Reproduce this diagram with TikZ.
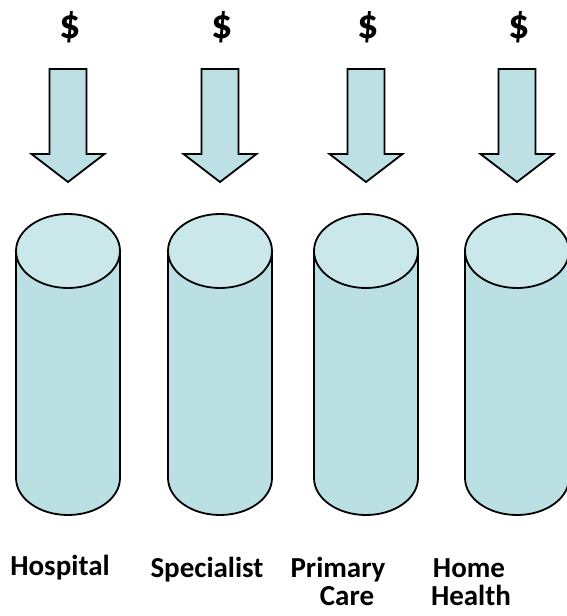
\documentclass[tikz,border=0pt]{standalone}
\usepackage{fontspec}
\setmainfont{Carlito}
\usetikzlibrary{positioning}
\definecolor{tankside}{RGB}{186,224,228}
\definecolor{tanktop}{RGB}{202,231,234}
\definecolor{flowfill}{RGB}{188,224,228}

\tikzset{
  tank/.style={fill=tankside,draw=black,line width=1.8pt},
  tanklid/.style={fill=tanktop,draw=black,line width=1.8pt},
  flow/.style={fill=flowfill,draw=black,line width=1.8pt,line join=miter},
  money/.style={inner sep=0pt,font=\bfseries\fontsize{42}{42}\selectfont},
  sector/.style={inner sep=0pt,anchor=base}
}

\begin{document}
\begin{tikzpicture}[x=1pt,y=-1pt,font=\bfseries\fontsize{29}{30}\selectfont]
  \useasboundingbox (0,0) rectangle (566,616);

  \foreach \cx/\name in {68/hosp,220/spec,366/prim,517/home}
  {
      % Funding arrow
      \draw[flow] (\cx-18.5,69) -- (\cx+18.5,69) -- (\cx+18.5,154) -- (\cx+36.5,154)
          -- (\cx,182) -- (\cx-36.5,154) -- (\cx-18.5,154) -- cycle;
      % Silo
      \draw[tank] (\cx-52,251) -- (\cx-52,478)
          arc[start angle=180,end angle=360,x radius=52pt,y radius=37pt]
          -- (\cx+52,251) -- cycle;
      \draw[tanklid] (\cx,251) ellipse [x radius=52pt,y radius=37pt];
      % Dollar sign
      \node[money] (d\name) at (\cx+2,27) {\$};
  }

  % Labels
  \node[sector] (hosp) at (60,575) {Hospital};
  \node[sector] (spec) at (207,577) {Specialist};
  \node[sector] (prim) at (338,577) {Primary};
  \node[sector] (primb) at (347,605) {Care};
  \node[sector] (home) at (469,577) {Home};
  \node[sector] (homeb) at (471,605) {Health};
\end{tikzpicture}
\end{document}
